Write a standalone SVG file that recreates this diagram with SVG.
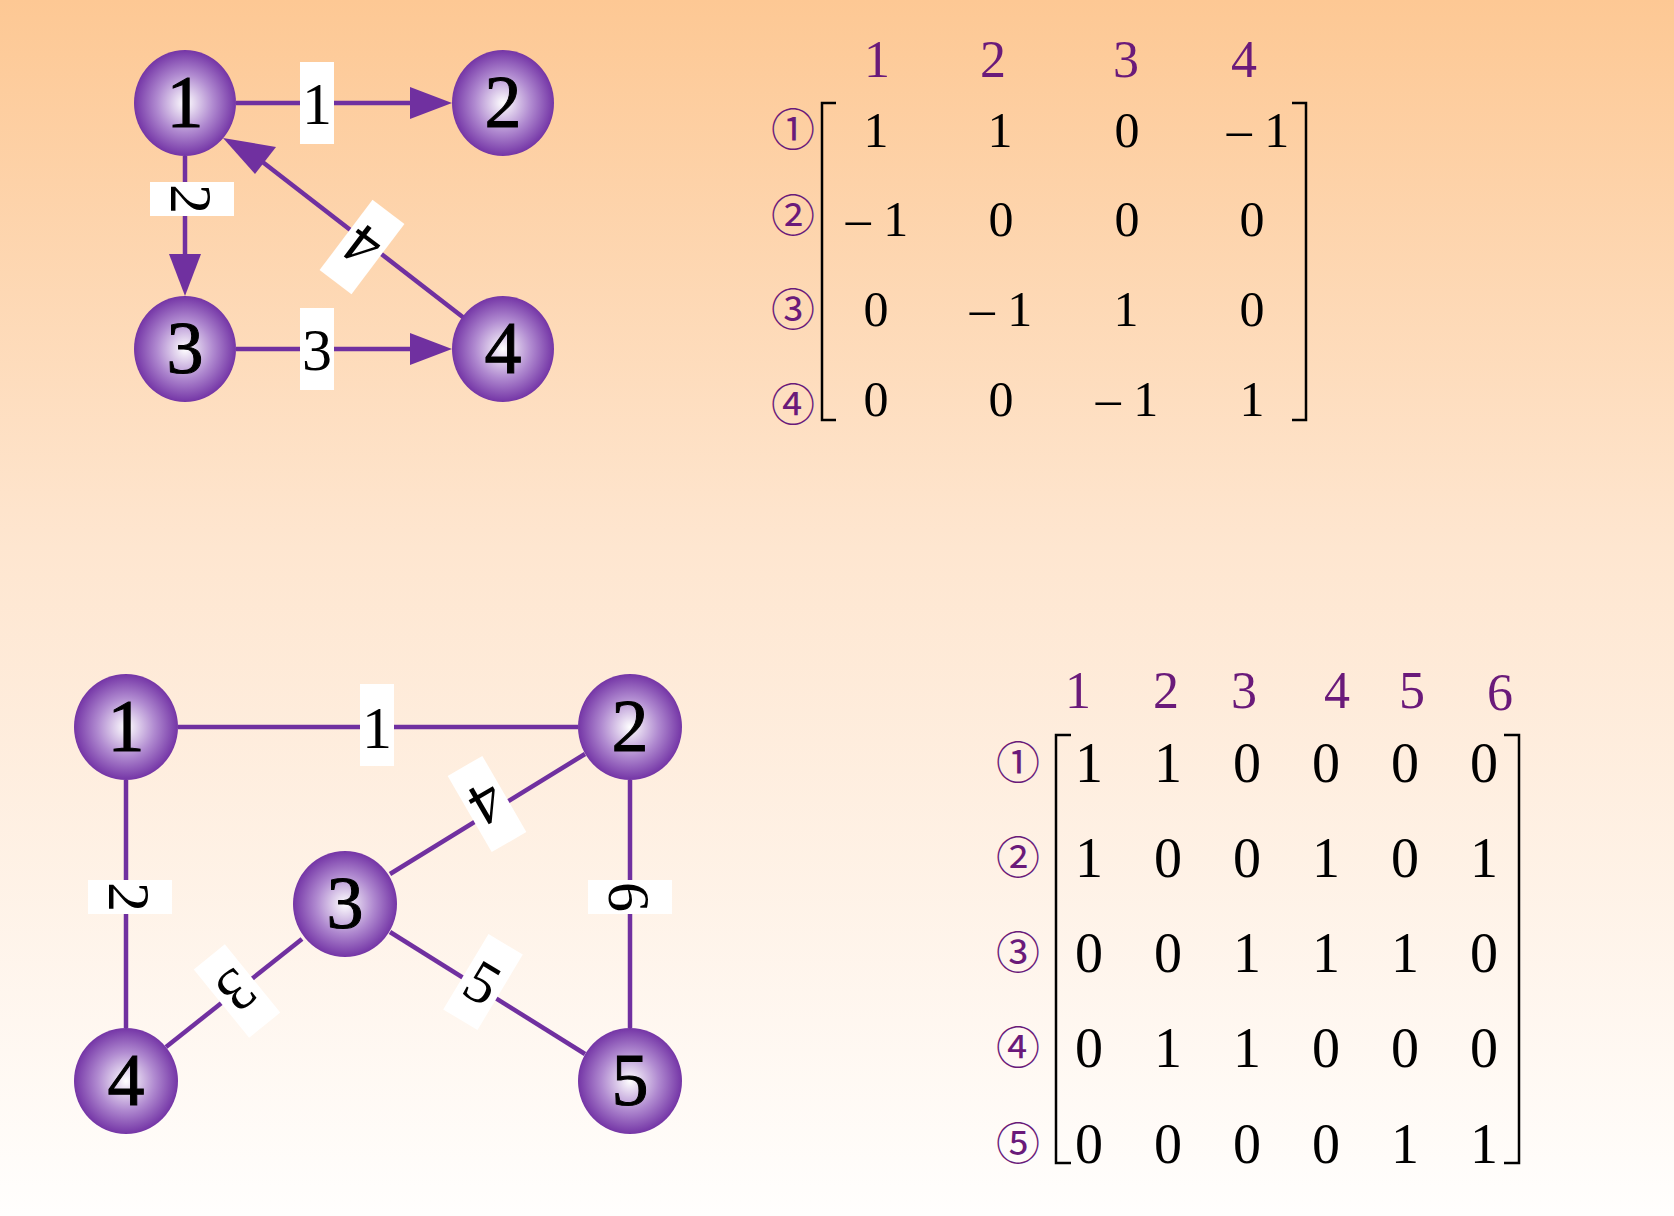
<svg xmlns="http://www.w3.org/2000/svg" width="1674" height="1216" viewBox="0 0 1674 1216">
<defs>
<linearGradient id="bg" x1="0" y1="0" x2="0" y2="1">
<stop offset="0" stop-color="#fdc894"/><stop offset="0.45" stop-color="#fee6d0"/><stop offset="1" stop-color="#fffefd"/>
</linearGradient>
<radialGradient id="ball" cx="0.5" cy="0.5" r="0.5" fx="0.5" fy="0.5">
<stop offset="0" stop-color="#ffffff"/><stop offset="0.55" stop-color="#b08ad0"/><stop offset="1" stop-color="#7435a6"/>
</radialGradient>
<style>
.n ellipse{fill:url(#ball)}
.n text{font-family:"Liberation Serif",serif;font-size:74px;text-anchor:middle;fill:#000;stroke:#000;stroke-width:1}
.e{stroke:#7030a0;stroke-width:4.5;fill:none}
.lb rect{fill:#fff}
.lb text{font-family:"Liberation Serif",serif;font-size:60px;text-anchor:middle;fill:#000}
.m{font-family:"Liberation Serif",serif;font-size:50px;text-anchor:middle;fill:#000}
.m2{font-family:"Liberation Serif",serif;font-size:56px;text-anchor:middle;fill:#000}
.h{font-family:"Liberation Serif",serif;font-size:52px;text-anchor:middle;fill:#6a1a7a}
.c{font-family:"Noto Sans CJK SC","DejaVu Sans",sans-serif;font-size:44px;text-anchor:middle;fill:#6a1a7a}
.br{stroke:#000;stroke-width:2.5;fill:none}
</style>
</defs>
<rect width="1674" height="1216" fill="url(#bg)"/>

<g id="edges">
<line class="e" x1="236" y1="103" x2="420" y2="103"/>
<line class="e" x1="185" y1="156" x2="185" y2="256"/>
<line class="e" x1="236" y1="349" x2="420" y2="349"/>
<line class="e" x1="464" y1="318" x2="260" y2="160"/>
<path d="M452,103 L410,87 L410,119 Z" fill="#7030a0"/>
<path d="M185,296 L169,254 L201,254 Z" fill="#7030a0"/>
<path d="M452,349 L410,333 L410,365 Z" fill="#7030a0"/>
<path d="M223,138 L276,147 L255,174 Z" fill="#7030a0"/>

<line class="e" x1="178" y1="727" x2="578" y2="727"/>
<line class="e" x1="126" y1="780" x2="126" y2="1028"/>
<line class="e" x1="630" y1="780" x2="630" y2="1028"/>
<line class="e" x1="585" y1="754" x2="390" y2="874"/>
<line class="e" x1="302" y1="939" x2="166" y2="1047"/>
<line class="e" x1="390" y1="932" x2="585" y2="1054"/>
</g>

<g id="labels">
<g class="lb"><rect x="300" y="62" width="34" height="82"/><text x="317" y="124">1</text></g>
<g class="lb" transform="translate(192,199) rotate(90)"><rect x="-17" y="-42" width="34" height="84"/><text x="0" y="21">2</text></g>
<g class="lb"><rect x="300" y="308" width="34" height="82"/><text x="317" y="370">3</text></g>
<g class="lb" transform="translate(362,247) rotate(217)"><rect x="-20" y="-44" width="40" height="88"/><text x="0" y="21">4</text></g>

<g class="lb"><rect x="360" y="684" width="34" height="82"/><text x="377" y="748">1</text></g>
<g class="lb" transform="translate(130,897) rotate(90)"><rect x="-17" y="-42" width="34" height="84"/><text x="0" y="21">2</text></g>
<g class="lb" transform="translate(630,897) rotate(90)"><rect x="-17" y="-42" width="34" height="84"/><text x="0" y="21">6</text></g>
<g class="lb" transform="translate(487,804) rotate(150)"><rect x="-20" y="-44" width="40" height="88"/><text x="0" y="21">4</text></g>
<g class="lb" transform="translate(237,991) rotate(141)"><rect x="-20" y="-44" width="40" height="88"/><text x="0" y="21">3</text></g>
<g class="lb" transform="translate(483,982) rotate(31)"><rect x="-20" y="-44" width="40" height="88"/><text x="0" y="21">5</text></g>
</g>

<g id="t1" class="n"><ellipse cx="185" cy="103" rx="51" ry="53"/><text x="185" y="127">1</text></g>
<g id="t2" class="n"><ellipse cx="503" cy="103" rx="51" ry="53"/><text x="503" y="127">2</text></g>
<g id="t3" class="n"><ellipse cx="185" cy="349" rx="51" ry="53"/><text x="185" y="373">3</text></g>
<g id="t4" class="n"><ellipse cx="503" cy="349" rx="51" ry="53"/><text x="503" y="373">4</text></g>

<g id="b1" class="n"><ellipse cx="126" cy="727" rx="52" ry="53"/><text x="126" y="751">1</text></g>
<g id="b2" class="n"><ellipse cx="630" cy="727" rx="52" ry="53"/><text x="630" y="751">2</text></g>
<g id="b3" class="n"><ellipse cx="345" cy="904" rx="52" ry="53"/><text x="345" y="928">3</text></g>
<g id="b4" class="n"><ellipse cx="126" cy="1081" rx="52" ry="53"/><text x="126" y="1105">4</text></g>
<g id="b5" class="n"><ellipse cx="630" cy="1081" rx="52" ry="53"/><text x="630" y="1105">5</text></g>

<g id="matrix1">
<text class="h" x="877" y="77">1</text><text class="h" x="993" y="77">2</text><text class="h" x="1126" y="77">3</text><text class="h" x="1244" y="77">4</text>
<text class="c" x="793" y="146">①</text><text class="c" x="793" y="232">②</text><text class="c" x="793" y="326">③</text><text class="c" x="793" y="421">④</text>
<path class="br" d="M836,103 L822,103 L822,420 L836,420"/>
<path class="br" d="M1292,103 L1306,103 L1306,420 L1292,420"/>
<text class="m" x="876" y="147">1</text><text class="m" x="1000" y="147">1</text><text class="m" x="1127" y="147">0</text><text class="m" x="1258" y="147">– 1</text>
<text class="m" x="877" y="236">– 1</text><text class="m" x="1001" y="236">0</text><text class="m" x="1127" y="236">0</text><text class="m" x="1252" y="236">0</text>
<text class="m" x="876" y="326">0</text><text class="m" x="1001" y="326">– 1</text><text class="m" x="1126" y="326">1</text><text class="m" x="1252" y="326">0</text>
<text class="m" x="876" y="416">0</text><text class="m" x="1001" y="416">0</text><text class="m" x="1127" y="416">– 1</text><text class="m" x="1252" y="416">1</text>
</g>

<g id="matrix2">
<text class="h" x="1078" y="708">1</text><text class="h" x="1166" y="708">2</text><text class="h" x="1244" y="708">3</text><text class="h" x="1337" y="708">4</text><text class="h" x="1412" y="708">5</text><text class="h" x="1500" y="710">6</text>
<text class="c" x="1018" y="779">①</text><text class="c" x="1018" y="874">②</text><text class="c" x="1018" y="969">③</text><text class="c" x="1018" y="1064">④</text><text class="c" x="1018" y="1160">⑤</text>
<path class="br" d="M1071,735 L1056,735 L1056,1163 L1071,1163"/>
<path class="br" d="M1504,735 L1519,735 L1519,1163 L1504,1163"/>
<g class="m2">
<text x="1089" y="782">1</text><text x="1168" y="782">1</text><text x="1247" y="782">0</text><text x="1326" y="782">0</text><text x="1405" y="782">0</text><text x="1484" y="782">0</text>
<text x="1089" y="877">1</text><text x="1168" y="877">0</text><text x="1247" y="877">0</text><text x="1326" y="877">1</text><text x="1405" y="877">0</text><text x="1484" y="877">1</text>
<text x="1089" y="972">0</text><text x="1168" y="972">0</text><text x="1247" y="972">1</text><text x="1326" y="972">1</text><text x="1405" y="972">1</text><text x="1484" y="972">0</text>
<text x="1089" y="1067">0</text><text x="1168" y="1067">1</text><text x="1247" y="1067">1</text><text x="1326" y="1067">0</text><text x="1405" y="1067">0</text><text x="1484" y="1067">0</text>
<text x="1089" y="1163">0</text><text x="1168" y="1163">0</text><text x="1247" y="1163">0</text><text x="1326" y="1163">0</text><text x="1405" y="1163">1</text><text x="1484" y="1163">1</text>
</g>
</g>
</svg>
